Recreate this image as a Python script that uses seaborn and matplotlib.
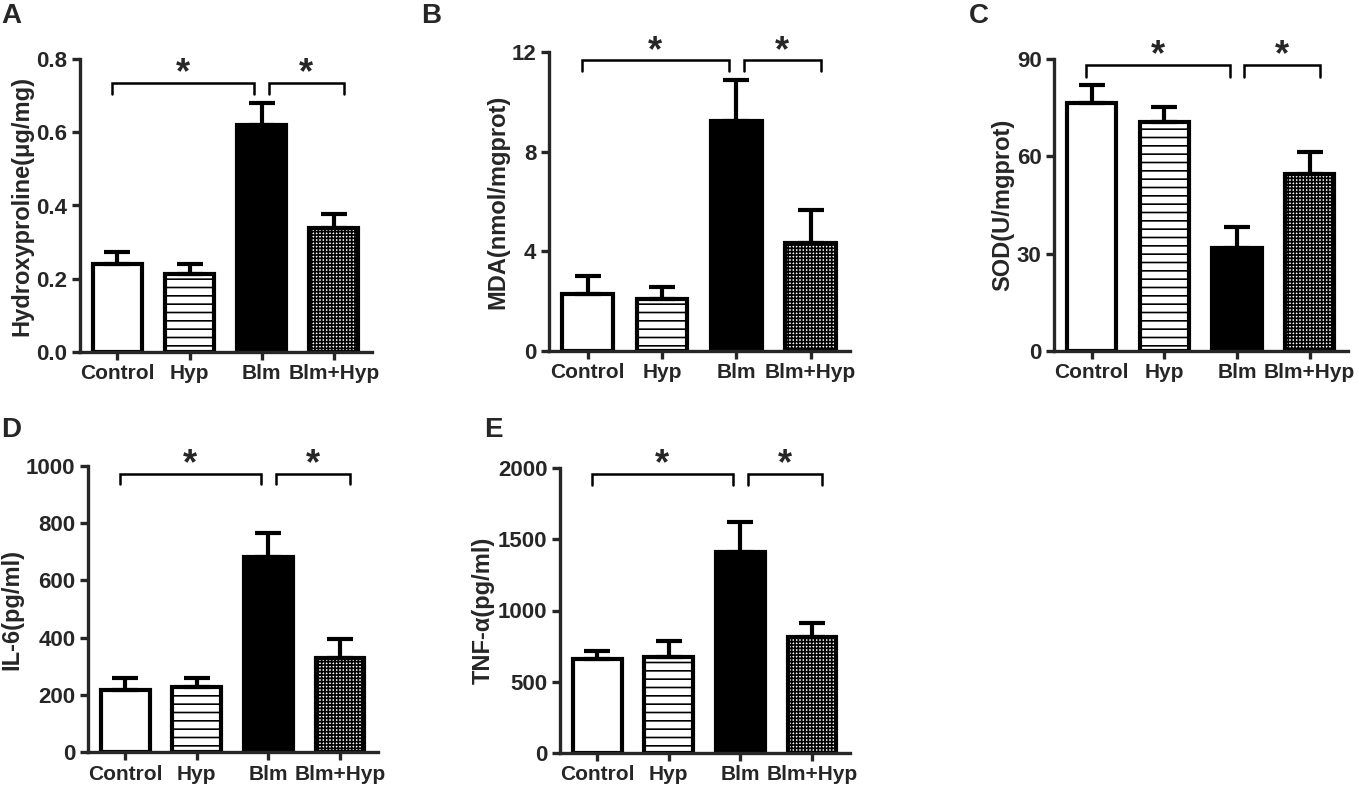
import matplotlib
matplotlib.use("Agg")
import matplotlib.pyplot as plt
import numpy as np
import seaborn as sns

groups = ["Control", "Hyp", "Blm", "Blm+Hyp"]

hyp_mean = [0.239, 0.212, 0.620, 0.339]
hyp_sem = [0.033, 0.028, 0.061, 0.039]
mda_mean = [2.30, 2.10, 9.22, 4.33]
mda_sem = [0.70, 0.47, 1.64, 1.34]
sod_mean = [76.3, 70.7, 31.6, 54.5]
sod_sem = [5.7, 4.6, 6.5, 6.7]
il6_mean = [217, 229, 683, 330]
il6_sem = [41, 29, 83, 65]
tnf_mean = [660, 677, 1412, 812]
tnf_sem = [59, 112, 210, 103]

panels = [
    # letter, ylabel, means, sems, ymax, yticks, bracket top, bracket leg
    ("A", "Hydroxyproline(μg/mg)", hyp_mean, hyp_sem, 0.8, [0.0, 0.2, 0.4, 0.6, 0.8], 0.735, 0.704),
    ("B", "MDA(nmol/mgprot)", mda_mean, mda_sem, 12, [0, 4, 8, 12], 11.66, 11.24),
    ("C", "SOD(U/mgprot)", sod_mean, sod_sem, 90, [0, 30, 60, 90], 88.1, 84.5),
    ("D", "IL-6(pg/ml)", il6_mean, il6_sem, 1000, [0, 200, 400, 600, 800, 1000], 973, 936),
    ("E", "TNF-α(pg/ml)", tnf_mean, tnf_sem, 2000, [0, 500, 1000, 1500, 2000], 1956, 1879),
]

# axes boxes in pixels: left, bottom, right, top (y from image top)
boxes = [
    (80, 352, 372, 59),
    (549, 351, 850, 52),
    (1054, 351, 1348, 59),
    (88, 752, 378, 466),
    (560, 753, 850, 468),
]
letter_xy = [(1, 3), (421, 3), (969, 3), (1, 417), (484, 417)]

fills = ["white", "white", "black", "white"]
hatches = [None, "--", None, "+++++"]

W, H = 1359, 790

sns.set_style("ticks")
plt.rcParams["font.family"] = ["Liberation Sans", "DejaVu Sans"]
plt.rcParams["font.weight"] = "bold"
plt.rcParams["hatch.linewidth"] = 1.2
plt.rcParams["axes.linewidth"] = 2.4

fig = plt.figure(figsize=(W / 100, H / 100), dpi=100)

for (letter, ylabel, means, sems, ymax, yticks, btop, bleg), box, lxy in zip(panels, boxes, letter_xy):
    l, b, r, t = box
    ax = fig.add_axes([l / W, 1 - b / H, (r - l) / W, (b - t) / H])
    sns.barplot(x=groups, y=means, ax=ax, color="white", edgecolor="black",
                linewidth=3.0, width=0.68, errorbar=None, saturation=1)
    for patch, fc, hatch in zip(ax.patches, fills, hatches):
        patch.set_facecolor(fc)
        patch.set_edgecolor("black")
        if hatch:
            patch.set_hatch(hatch)
    x = np.arange(len(groups))
    ax.errorbar(x, means, yerr=[np.zeros(len(sems)), sems], fmt="none",
                ecolor="black", elinewidth=3.0, capsize=9.5, capthick=3.0, zorder=1)

    # significance brackets Control-Blm and Blm-Blm+Hyp
    for x0, x1 in [(-0.08, 1.9), (2.1, 3.14)]:
        ax.plot([x0, x0, x1, x1], [bleg, btop, btop, bleg], color="black",
                lw=1.8, solid_joinstyle="miter", clip_on=False)
        ax.annotate("*", xy=((x0 + x1) / 2, btop), xytext=(0, -6),
                    textcoords="offset points", ha="center", va="bottom",
                    fontsize=26, fontweight="bold", annotation_clip=False)

    ax.set_xlim(-0.52, 3.53)
    ax.set_ylim(0, ymax)
    ax.set_yticks(yticks)
    if letter == "A":
        ax.set_yticklabels([f"{v:.1f}" for v in yticks])
    ax.set_ylabel(ylabel, fontsize=17, fontweight="bold", labelpad=2)
    ax.set_xlabel("")
    ax.tick_params(axis="both", length=6, width=2.4, pad=3)
    ax.tick_params(axis="x", labelsize=15)
    ax.tick_params(axis="y", labelsize=16)
    for lab in ax.get_xticklabels() + ax.get_yticklabels():
        lab.set_fontweight("bold")
    sns.despine(ax=ax)

    fig.text(lxy[0] / W, 1 - lxy[1] / H, letter, ha="left", va="top",
             fontsize=20, fontweight="bold")

fig.savefig("out.png", dpi=100)
